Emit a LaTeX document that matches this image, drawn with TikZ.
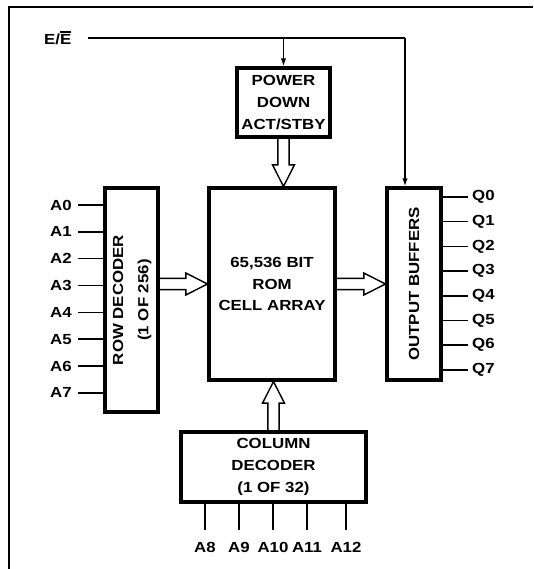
\documentclass[tikz,border=0pt]{standalone}
\usepackage{fontspec}
\newfontfamily\diagfont{Liberation Sans Bold}[FakeStretch=1.15]
\usepackage{tikz}
\usetikzlibrary{arrows.meta,calc}
\tikzstyle{blockNode}=[rectangle, draw, line width=2.6pt, inner sep=0pt, align=center,
  font=\diagfont\fontsize{12.5}{18.5}\selectfont]
\tikzstyle{pinLabel}=[inner sep=0pt, font=\diagfont\fontsize{12.5}{14}\selectfont]
\tikzstyle{wire}=[line width=1.3pt]
\tikzstyle{arr}=[wire, -{Latex[length=2.4mm,width=1.6mm]}]
\tikzstyle{fatArrow}=[line width=1.2pt, line join=miter]
\tikzstyle{frameLine}=[line width=1.6pt]
\newcommand{\barE}{\leavevmode\vbox{\hrule height 1pt\kern 1.3pt\hbox{E}}}
\newcommand{\fatarrow}[2]{%
  \coordinate (fa-h) at ($(#2)!6.5mm!(#1)$);
  \draw[fatArrow] ($(#1)!1.7mm!90:(#2)$) -- ($(fa-h)!1.7mm!90:(#2)$)
    -- ($(fa-h)!3.3mm!90:(#2)$) -- (#2) -- ($(fa-h)!3.3mm!-90:(#2)$)
    -- ($(fa-h)!1.7mm!-90:(#2)$) -- ($(#1)!1.7mm!-90:(#2)$);}

\begin{document}
\begin{tikzpicture}[x=0.3mm, y=-0.3mm]
\useasboundingbox (0,0) rectangle (533,569);
\draw[frameLine] (9,569) -- (9,7) -- (533,7);
\node[blockNode, minimum width=27.9mm, minimum height=20.7mm] (pwr) at (283.5,102.5)
  {POWER\\DOWN\\ACT/STBY};
\node[blockNode, minimum width=37.8mm, minimum height=57.6mm] (rom) at (272,284)
  {65,536 BIT\\ROM\\CELL ARRAY};
\node[blockNode, minimum width=15.9mm, minimum height=67.2mm] (rowdec) at (131.5,300)
  {\rotatebox{90}{\begin{tabular}{@{}c@{}}ROW DECODER\\[3pt](1 OF 256)\end{tabular}}};
\node[blockNode, minimum width=16.2mm, minimum height=57.6mm] (outbuf) at (414,284)
  {\rotatebox{90}{OUTPUT BUFFERS}};
\node[blockNode, minimum width=55.5mm, minimum height=21mm] (col) at (273.5,467)
  {COLUMN\\DECODER\\(1 OF 32)};
\node[pinLabel, anchor=west] (ee) at (44,38) {E/\barE};
\coordinate (ecorner) at (405,38);
\draw[wire, shorten <=5mm] (ee.east) -- (ecorner);
\draw[arr] (ecorner) -- (ecorner |- outbuf.north);
\draw[arr] (ee -| pwr.north) -- (pwr.north);
\foreach \i in {0,...,7} {
  \node[pinLabel, anchor=east] (a\i) at (72,205+26.85*\i) {A\i};
  \draw[wire, shorten <=1.8mm] (a\i.east) -- (a\i.east -| rowdec.west);
}
\foreach \i in {0,...,7} {
  \node[pinLabel, anchor=west] (q\i) at (472,197+24.7*\i) {Q\i};
  \draw[wire, shorten >=1.2mm] (q\i.west -| outbuf.east) -- (q\i.west);
}
\foreach \x/\n in {205/8, 239/9, 273/10, 307/11, 346/12} {
  \node[pinLabel] (a\n) at (\x,547) {A\n};
  \draw[wire, shorten >=3.6mm] (a\n.north |- col.south) -- (a\n.north);
}
\coordinate (pwrout) at (pwr.south);
\coordinate (romtop) at (pwr.south |- rom.north);
\coordinate (rowout) at (rom.west -| rowdec.east);
\coordinate (colout) at (col.north);
\coordinate (rombot) at (col.north |- rom.south);
\fatarrow{pwrout}{romtop}
\fatarrow{rowout}{rom.west}
\fatarrow{rom.east}{outbuf.west}
\fatarrow{colout}{rombot}
\end{tikzpicture}
\end{document}
